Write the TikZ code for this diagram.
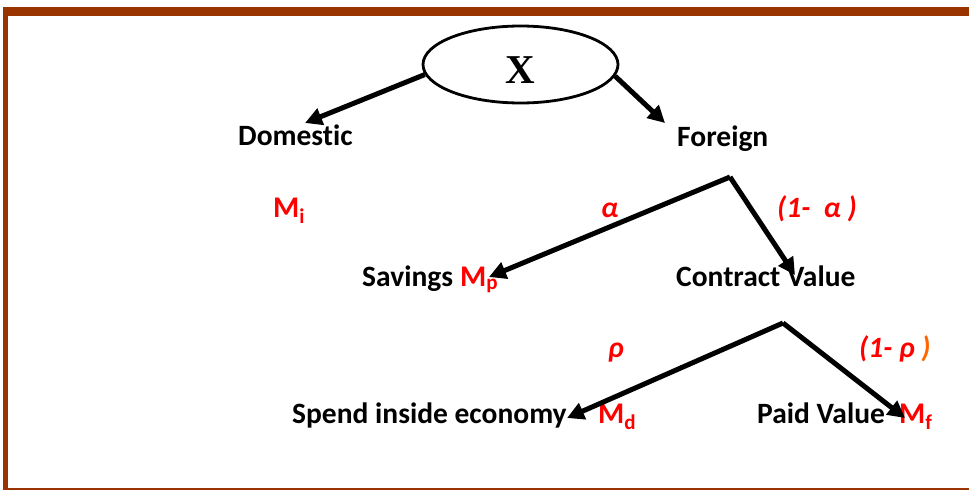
\documentclass[tikz,border=0pt]{standalone}
\usepackage{fontspec}
\setmainfont[Ligatures=NoCommon]{Carlito}
\newfontfamily\xfont{Liberation Serif}
\usetikzlibrary{arrows.meta,shapes.geometric}
\definecolor{frame}{HTML}{993300}
\definecolor{lblred}{HTML}{FF0000}
\definecolor{lblorange}{HTML}{FF6600}
\tikzset{
  lbl/.style={font=\fontsize{29.5}{33}\selectfont\bfseries, inner sep=0pt, anchor=base west},
  redlbl/.style={font=\fontsize{29.5}{33}\selectfont\bfseries\itshape, text=lblred, inner sep=0pt, anchor=base west},
  mlbl/.style={font=\fontsize{30}{33}\selectfont\bfseries, text=lblred, inner sep=0pt, anchor=base west},
  arr/.style={line width=5pt, -{Triangle[length=17pt,width=17pt]}},
}
\begin{document}
\begin{tikzpicture}[x=1pt,y=-1pt]
\useasboundingbox (0,0) rectangle (969,490);
\fill[white] (0,0) rectangle (969,490);
% frame
\fill[frame] (3,7) rectangle (969,16);
\fill[frame] (3,7) rectangle (7.5,490);
\fill[frame] (3,487.5) rectangle (969,490);
% root
\node[ellipse, draw, line width=2.8pt, minimum width=195pt, minimum height=77pt] (root) at (520.5,64.5) {};
\node[font=\xfont\fontsize{41}{44}\selectfont\bfseries, inner sep=0pt] (x) at (520,70) {X};
% labels
\node[lbl] (dom) at (238,145) {Domestic};
\node[lbl] (for) at (677,146) {Foreign};
\node[mlbl] (mi) at (273,217) {M\textsubscript{i}};
\node[redlbl] (alpha) at (601,217) {α};
\node[redlbl] (nalpha) at (777,217) {(1-\ \ α\ )};
\node[lbl] (sav) at (362,286) {Savings};
\node[mlbl] (mp) at (460,286) {M\textsubscript{p}};
\node[lbl] (con) at (676,286) {Contract Value};
\node[redlbl] (rho) at (608,357) {ρ};
\node[redlbl] (nrho) at (859,357) {(1- ρ \textcolor{lblorange}{)}};
\node[lbl] (spend) at (292,423) {Spend inside economy};
\node[mlbl] (md) at (598,423) {M\textsubscript{d}};
\node[lbl] (paid) at (757,423) {Paid Value};
\node[mlbl] (mf) at (899,423) {M\textsubscript{f}};
% connector points
\coordinate (a1) at (730,177);
\coordinate (a2) at (783,323);
\coordinate (tdom) at (305,123);
\coordinate (tfor) at (665,123);
\coordinate (tsav) at (489,277);
\coordinate (tcon) at (795,275);
\coordinate (tspend) at (567,418);
\coordinate (tpaid) at (905,418);
% arrows
\draw[arr] (root.186) -- (tdom);
\draw[arr] (root.-7) -- (tfor);
\draw[arr] (a1) -- (tsav);
\draw[arr] (a1) -- (tcon);
\draw[arr] (a2) -- (tspend);
\draw[arr] (a2) -- (tpaid);
\end{tikzpicture}
\end{document}
